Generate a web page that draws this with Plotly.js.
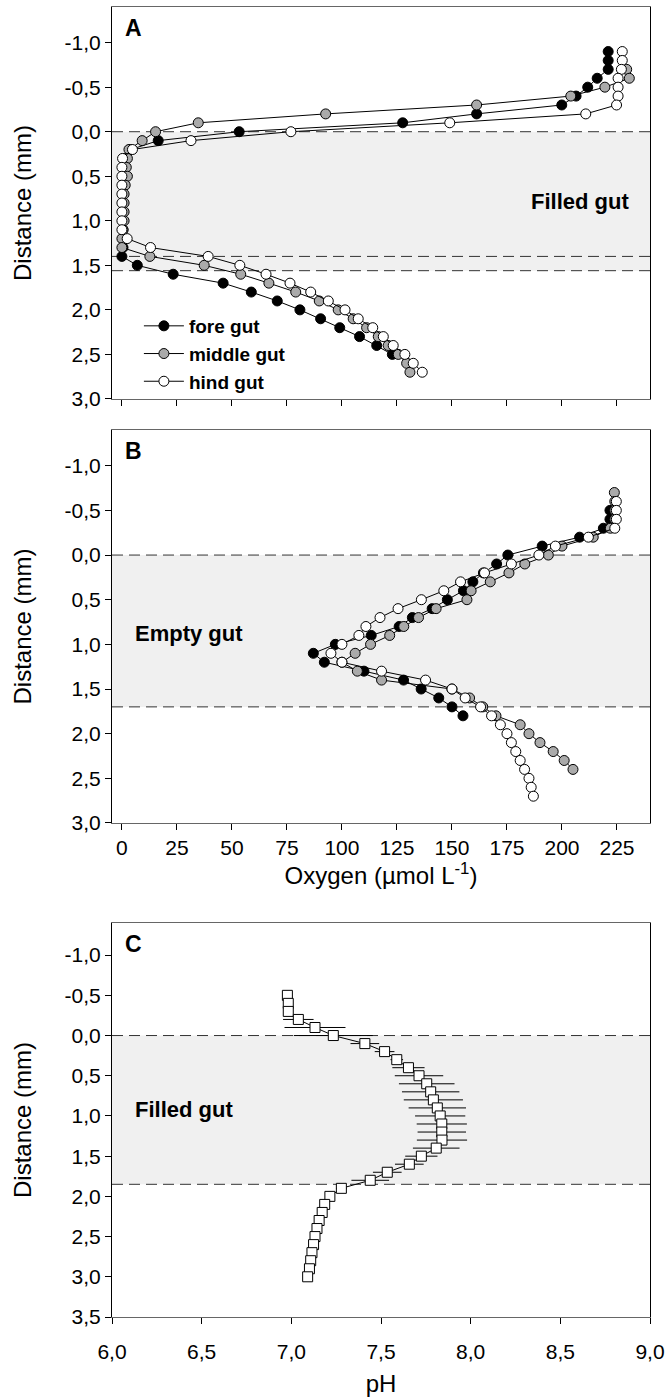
<!DOCTYPE html>
<html>
<head>
<meta charset="utf-8">
<script src="https://cdn.plot.ly/plotly-3.0.1.min.js"></script>
<style>html,body{margin:0;padding:0;background:#fff;}#chart{width:667px;height:1397px;}</style>
</head>
<body>
<div id="chart"></div>
<script>
// ---------- Panel A: filled gut, oxygen ----------
const depthA_fore = [-0.9,-0.8,-0.7,-0.6,-0.5,-0.4,-0.3,-0.2,-0.1,0.0,0.1,0.2,0.3,0.4,0.5,0.6,0.7,0.8,0.9,1.0,1.1,1.2,1.3,1.4,1.5,1.6,1.7,1.8,1.9,2.0,2.1,2.2,2.3,2.4,2.5];
const oxyA_fore   = [221,221,221,216,211.7,206.4,199.9,161.2,127.6,53.3,16.5,4,1.5,1,1,1,0.5,0.5,0.5,0.5,0.5,0.5,0.5,0,7,23.3,46,58.8,70.6,80.9,90.3,99,108,115.8,122.9];
const depthA_mid  = [-0.7,-0.6,-0.5,-0.4,-0.3,-0.2,-0.1,0.0,0.1,0.2,0.3,0.4,0.5,0.6,0.7,0.8,0.9,1.0,1.1,1.2,1.3,1.4,1.5,1.6,1.7,1.8,1.9,2.0,2.1,2.2,2.3,2.4,2.5,2.6,2.7];
const oxyA_mid    = [229.4,230.6,219.5,204,161.2,92.6,34.7,15.3,9.2,3.2,2.5,2,2.5,1.5,1,1,1,1,0.5,0,0,12.7,37.4,54,66.8,79,89.7,98.3,105.1,111.2,116.5,121,125.6,129.4,130.9];
const depthA_hind = [-0.9,-0.8,-0.7,-0.6,-0.5,-0.4,-0.3,-0.2,-0.1,0.0,0.1,0.2,0.3,0.4,0.5,0.6,0.7,0.8,0.9,1.0,1.1,1.2,1.3,1.4,1.5,1.6,1.7,1.8,1.9,2.0,2.1,2.2,2.3,2.4,2.5,2.6,2.7];
const oxyA_hind   = [227.4,227.4,227,225.5,225.5,225.5,224.8,210.8,149,76.8,31.4,4.8,0.3,0,0,0,0,0,0,0,0,2.4,13,39.2,53.6,65.5,76.4,85.8,93.8,101.4,107.4,114,118.8,123.3,128.6,132.4,136.5];

// ---------- Panel B: empty gut, oxygen ----------
const depthB_fore = [-0.5,-0.4,-0.3,-0.2,-0.1,0.0,0.1,0.2,0.3,0.4,0.5,0.6,0.7,0.8,0.9,1.0,1.1,1.2,1.3,1.4,1.5,1.6,1.7,1.8];
const oxyB_fore   = [221.8,221.8,218.8,208,191,175.4,170.3,164.3,159.5,155.2,147.9,141,132,126,113.3,97,87,92,110,128,136,144,150,155];
const depthB_mid  = [-0.7,-0.6,-0.5,-0.4,-0.3,-0.2,-0.1,0.0,0.1,0.2,0.3,0.4,0.5,0.6,0.7,0.8,0.9,1.0,1.1,1.2,1.3,1.4,1.5,1.6,1.7,1.8,1.9,2.0,2.1,2.2,2.3,2.4];
const oxyB_mid    = [223.8,224,224,224,222,214.2,200,193.8,183.1,175.9,167.4,158.7,156.8,142.8,134.8,128.1,121.7,113,106,100,107,118,150,158,164,170,181,185,190,196,201,205];
const depthB_hind = [-0.6,-0.5,-0.4,-0.3,-0.2,-0.1,0.0,0.1,0.2,0.3,0.4,0.5,0.6,0.7,0.8,0.9,1.0,1.1,1.2,1.3,1.4,1.5,1.6,1.7,1.8,1.9,2.0,2.1,2.2,2.3,2.4,2.5,2.6,2.7];
const oxyB_hind   = [224.7,224.7,224.7,224,212,197,189.5,177,164.8,153.9,146.3,136.1,125.5,117.3,110.9,107.7,100,95,100,118,138,150,156,163,168,172,175,177,179,181,183,185,186,187];

// ---------- Panel C: filled gut, pH ----------
const depthC = [-0.5,-0.4,-0.3,-0.2,-0.1,0.0,0.1,0.2,0.3,0.4,0.5,0.6,0.7,0.8,0.9,1.0,1.1,1.2,1.3,1.4,1.5,1.6,1.7,1.8,1.9,2.0,2.1,2.2,2.3,2.4,2.5,2.6,2.7,2.8,2.9,3.0];
const pHC    = [6.978,6.983,6.983,7.039,7.132,7.234,7.41,7.52,7.588,7.653,7.712,7.755,7.777,7.792,7.814,7.83,7.839,7.839,7.84,7.808,7.725,7.658,7.535,7.44,7.279,7.215,7.186,7.172,7.155,7.143,7.132,7.124,7.115,7.108,7.101,7.091];
const pHErr  = [0,0.01,0.02,0.085,0.17,0.22,0.08,0.055,0.035,0.09,0.135,0.155,0.16,0.165,0.16,0.14,0.14,0.135,0.14,0.13,0.09,0.08,0.08,0.105,0.03,0.01,0.01,0,0,0,0,0,0,0,0,0];

// ---------- boundaries, ticks, labels ----------
const boundA = [0, 1.40, 1.56];
const boundB = [0, 1.70];
const boundC = [0, 1.85];
const distTicksAB = [-1.0,-0.5,0.0,0.5,1.0,1.5,2.0,2.5,3.0];
const distTextAB  = ['-1,0','-0,5','0,0','0,5','1,0','1,5','2,0','2,5','3,0'];
const distTicksC  = [-1.0,-0.5,0.0,0.5,1.0,1.5,2.0,2.5,3.0,3.5];
const distTextC   = ['-1,0','-0,5','0,0','0,5','1,0','1,5','2,0','2,5','3,0','3,5'];
const oxyTicks = [0,25,50,75,100,125,150,175,200,225];
const pHTicks  = [6.0,6.5,7.0,7.5,8.0,8.5,9.0];
const pHText   = ['6,0','6,5','7,0','7,5','8,0','8,5','9,0'];
const seriesNames = ['fore gut','middle gut','hind gut'];
const seriesFill  = ['#000000','#aaaaaa','#ffffff'];

const FONT = 'Liberation Sans, Arial, sans-serif';

function circ(x, y, i, xa, ya, showleg){
  return {x:x, y:y, xaxis:xa, yaxis:ya, type:'scatter', mode:'lines+markers',
    name:seriesNames[i], showlegend:showleg, legendgroup:'g'+i,
    line:{color:'#000', width:1},
    marker:{symbol:'circle', size:10, color:seriesFill[i], line:{color:'#000', width:1}}};
}

const traces = [
  circ(oxyA_fore, depthA_fore, 0, 'x', 'y', true),
  circ(oxyA_mid,  depthA_mid,  1, 'x', 'y', true),
  circ(oxyA_hind, depthA_hind, 2, 'x', 'y', true),
  circ(oxyB_fore, depthB_fore, 0, 'x2', 'y2', false),
  circ(oxyB_mid,  depthB_mid,  1, 'x2', 'y2', false),
  circ(oxyB_hind, depthB_hind, 2, 'x2', 'y2', false),
  {x:pHC, y:depthC, xaxis:'x3', yaxis:'y3', type:'scatter', mode:'lines+markers', showlegend:false,
   line:{color:'#000', width:1},
   marker:{symbol:'square', size:10, color:'#fff', line:{color:'#000', width:1}},
   error_x:{type:'data', array:pHErr, visible:true, color:'#000', thickness:1, width:0}}
];

const shapes = [];
function shade(xr, yr, b0, b1){
  shapes.push({type:'rect', xref:xr+' domain', yref:yr, x0:0, x1:1, y0:b0, y1:b1,
    fillcolor:'#f0f0f0', line:{width:0}, layer:'below'});
}
function dash(xr, yr, b){
  shapes.push({type:'line', xref:xr+' domain', yref:yr, x0:0, x1:1, y0:b, y1:b,
    line:{color:'#333', width:1, dash:'11px,6px'}, layer:'below'});
}
shade('x','y',boundA[0],boundA[2]); boundA.forEach(b=>dash('x','y',b));
shade('x2','y2',boundB[0],boundB[1]); boundB.forEach(b=>dash('x2','y2',b));
shade('x3','y3',boundC[0],boundC[1]); boundC.forEach(b=>dash('x3','y3',b));

const tickFont = {family:FONT, size:21, color:'#000'};
const titleFont = {family:FONT, size:24, color:'#000'};
function xax(domainAnchor, range, tv, tt, showLabels, title, standoff, lblStandoff){
  const a = {anchor:domainAnchor, range:range, tickmode:'array', tickvals:tv, showticklabels:showLabels,
    ticks:'outside', ticklen:6, tickcolor:'#000', tickwidth:1, showgrid:false, zeroline:false,
    showline:true, linecolor:'#666', linewidth:1, mirror:true, tickfont:tickFont, domain:[0,1]};
  if (tt) a.ticktext = tt;
  if (lblStandoff) a.ticklabelstandoff = lblStandoff;
  if (title) a.title = {text:title, font:titleFont, standoff:standoff};
  return a;
}
function yax(anchor, domain, range, tv, tt){
  return {anchor:anchor, domain:domain, range:range, tickmode:'array', tickvals:tv, ticktext:tt,
    ticks:'outside', ticklen:6, tickcolor:'#000', tickwidth:1, showgrid:false, zeroline:false,
    showline:true, linecolor:'#000', linewidth:1, mirror:true, tickfont:tickFont,
    title:{text:'Distance (mm)', font:titleFont, standoff:26}};
}

const layout = {
  width:667, height:1397, paper_bgcolor:'#fff', plot_bgcolor:'#fff',
  margin:{l:112, r:17, t:7, b:80},
  separators:', ',
  font:{family:FONT, color:'#000'},
  xaxis: xax('y',  [-4.5,240], oxyTicks, null, false, null, 0, 0),
  yaxis: yax('x',  [0.7008,1.0], [3.0,-1.4], distTicksAB, distTextAB),
  xaxis2:xax('y2', [-4.5,240], oxyTicks, null, true, 'Oxygen (µmol L<sup>-1</sup>)', 6, 0),
  yaxis2:yax('x2', [0.3771,0.6771], [3.0,-1.4], distTicksAB, distTextAB),
  xaxis3:xax('y3', [6,9], pHTicks, pHText, true, 'pH', 14, 10),
  yaxis3:yax('x3', [0,0.3008], [3.5,-1.4], distTicksC, distTextC),
  shapes:shapes,
  showlegend:true,
  legend:{x:0.05, y:0.771, xanchor:'left', yanchor:'top', bgcolor:'rgba(0,0,0,0)',
    font:{family:FONT, size:19, color:'#000', weight:'bold'}, tracegroupgap:0, itemwidth:40},
  annotations:[
    {text:'<b>A</b>', xref:'x domain', yref:'y domain', x:0.02, y:0.985, xanchor:'left', yanchor:'top', showarrow:false, font:{family:FONT, size:23}},
    {text:'<b>B</b>', xref:'x2 domain', yref:'y2 domain', x:0.02, y:0.985, xanchor:'left', yanchor:'top', showarrow:false, font:{family:FONT, size:23}},
    {text:'<b>C</b>', xref:'x3 domain', yref:'y3 domain', x:0.02, y:0.985, xanchor:'left', yanchor:'top', showarrow:false, font:{family:FONT, size:23}},
    {text:'<b>Filled gut</b>', xref:'x', yref:'y', x:208, y:0.78, showarrow:false, font:{family:FONT, size:22}},
    {text:'<b>Empty gut</b>', xref:'x2', yref:'y2', x:5, y:0.88, xanchor:'left', showarrow:false, font:{family:FONT, size:22}},
    {text:'<b>Filled gut</b>', xref:'x3', yref:'y3', x:6.117, y:0.92, xanchor:'left', showarrow:false, font:{family:FONT, size:22}}
  ]
};

Plotly.newPlot('chart', traces, layout, {displayModeBar:false, staticPlot:true});
</script>
</body>
</html>
